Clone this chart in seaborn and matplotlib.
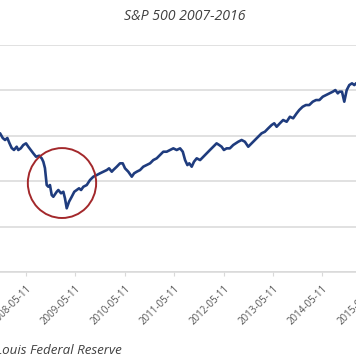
import matplotlib
matplotlib.use("Agg")
import matplotlib.pyplot as plt
import matplotlib.dates as mdates
from matplotlib.patches import Ellipse
import seaborn as sns
import pandas as pd

# ---- data ----
dates = [
    "2007-11-01", "2007-11-21", "2007-12-08", "2007-12-25", "2008-01-09", "2008-01-26",
    "2008-02-12", "2008-03-03", "2008-03-15", "2008-04-02", "2008-04-21", "2008-05-11",
    "2008-05-28", "2008-06-15", "2008-07-04", "2008-07-24", "2008-08-17", "2008-09-04",
    "2008-09-16", "2008-09-28", "2008-10-11", "2008-10-23", "2008-11-04", "2008-11-17",
    "2008-11-29", "2008-12-24", "2009-01-05", "2009-01-25", "2009-02-11", "2009-02-23",
    "2009-03-08", "2009-03-25", "2009-04-14", "2009-05-03", "2009-05-21", "2009-06-07",
    "2009-06-22", "2009-07-09", "2009-08-03", "2009-08-27", "2009-09-21", "2009-10-16",
    "2009-11-09", "2009-12-04", "2009-12-29", "2010-01-15", "2010-02-04", "2010-02-15",
    "2010-03-13", "2010-04-06", "2010-04-26", "2010-05-13", "2010-06-06", "2010-07-02",
    "2010-07-19", "2010-08-08", "2010-09-01", "2010-09-25", "2010-10-20", "2010-11-14",
    "2010-12-08", "2011-01-02", "2011-01-27", "2011-02-20", "2011-03-17", "2011-04-11",
    "2011-05-05", "2011-05-30", "2011-06-24", "2011-07-14", "2011-07-31", "2011-08-17",
    "2011-08-31", "2011-09-18", "2011-10-05", "2011-10-25", "2011-11-19", "2011-12-13",
    "2012-01-07", "2012-01-31", "2012-02-24", "2012-03-20", "2012-04-08", "2012-04-26",
    "2012-05-13", "2012-06-02", "2012-06-26", "2012-07-21", "2012-08-27", "2012-09-21",
    "2012-10-15", "2012-11-09", "2012-12-04", "2012-12-28", "2013-01-22", "2013-02-16",
    "2013-03-12", "2013-04-06", "2013-05-01", "2013-05-20", "2013-06-07", "2013-07-01",
    "2013-07-25", "2013-08-20", "2013-09-13", "2013-10-07", "2013-11-02", "2013-11-21",
    "2013-12-16", "2014-01-09", "2014-02-03", "2014-03-01", "2014-03-25", "2014-04-19",
    "2014-05-14", "2014-06-07", "2014-07-02", "2014-07-27", "2014-08-15", "2014-09-02",
    "2014-09-14", "2014-10-03", "2014-10-20", "2014-11-07", "2014-11-26", "2014-12-16",
    "2015-01-02", "2015-01-15", "2015-02-20", "2015-05-20",
]
values = [
    1528, 1476, 1454, 1476, 1421, 1366,
    1344, 1380, 1344, 1362, 1399, 1417,
    1380, 1344, 1307, 1270, 1281, 1252,
    1215, 1145, 958, 939, 958, 848,
    829, 884, 903, 867, 884, 812,
    702, 774, 829, 884, 903, 922,
    903, 939, 958, 1013, 1050, 1068,
    1087, 1105, 1123, 1142, 1105, 1123,
    1160, 1197, 1197, 1142, 1105, 1050,
    1087, 1105, 1123, 1160, 1178, 1197,
    1233, 1252, 1289, 1325, 1325, 1344,
    1362, 1344, 1362, 1325, 1233, 1178,
    1197, 1160, 1215, 1252, 1233, 1270,
    1307, 1344, 1380, 1417, 1399, 1380,
    1344, 1362, 1362, 1399, 1435, 1454,
    1435, 1380, 1417, 1454, 1490, 1528,
    1545, 1583, 1619, 1638, 1600, 1638,
    1674, 1655, 1710, 1693, 1748, 1784,
    1820, 1839, 1839, 1876, 1894, 1894,
    1931, 1949, 1968, 1986, 2004, 1968,
    1986, 1986, 1876, 2004, 2059, 2078,
    2059, 2078, 2100, 2125,
]
title = "S&P 500 2007-2016"
source = "Source: St. Louis Federal Reserve"
crash_center = ("2009-02-01", 980)

df = pd.DataFrame({"date": pd.to_datetime(dates), "value": values})

sns.set_theme(style="white")
plt.rcParams["font.family"] = ["Open Sans", "DejaVu Sans"]

fig = plt.figure(figsize=(3.56, 3.64), dpi=100)
ax = fig.add_axes([-0.1154, 0.2527, 1.2489, 0.6236])

sns.lineplot(data=df, x="date", y="value", ax=ax, color="#1F3C7E",
             linewidth=1.9, estimator=None)

ax.set_xlim(pd.Timestamp("2007-01-01"), pd.Timestamp("2016-01-01"))
ax.set_ylim(0, 2500)
ax.set_yticks([0, 500, 1000, 1500, 2000, 2500])
ax.yaxis.grid(True, color="#D9D9D9", linewidth=1.1)
ax.set_yticklabels([])
ax.tick_params(axis="y", length=0)

ax.xaxis.set_major_locator(mdates.YearLocator(base=1, month=5, day=11))
ax.xaxis.set_major_formatter(mdates.DateFormatter("%Y-%m-%d"))
ax.tick_params(axis="x", length=3, width=0.8, color="#D9D9D9", labelsize=7,
               labelcolor="#555555", pad=5, bottom=True)
for lbl in ax.get_xticklabels():
    lbl.set_rotation(45)
    lbl.set_ha("right")
    lbl.set_rotation_mode("anchor")

for s in ["top", "left", "right"]:
    ax.spines[s].set_visible(False)
ax.spines["bottom"].set_color("#D9D9D9")
ax.spines["bottom"].set_linewidth(1.1)
ax.set_xlabel("")
ax.set_ylabel("")

cx = mdates.date2num(pd.Timestamp(crash_center[0]))
ax.add_patch(Ellipse((cx, crash_center[1]), width=505, height=770,
                     fill=False, edgecolor="#A3282B", linewidth=1.4, zorder=5))

fig.text(185 / 356, 1 - 17 / 364, title, ha="center", va="center",
         fontsize=10.2, style="italic", color="#404040")
fig.text(122 / 356, 1 - 350 / 364, source, ha="right", va="center",
         fontsize=9.6, style="italic", color="#404040")

fig.savefig("out.png", dpi=100)
